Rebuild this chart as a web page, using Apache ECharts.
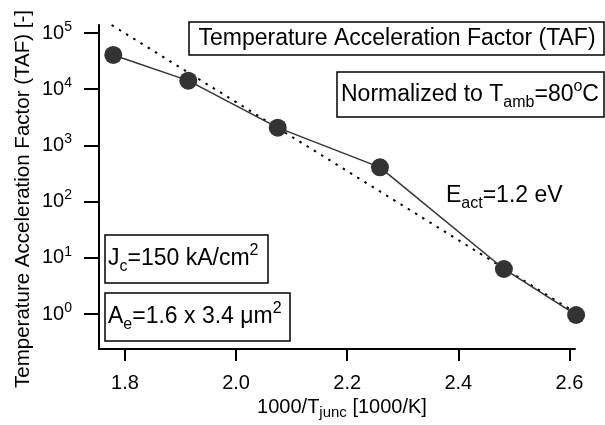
<!DOCTYPE html>
<html>
<head>
<meta charset="utf-8">
<script src="https://cdn.jsdelivr.net/npm/echarts@6/dist/echarts.min.js"></script>
<style>
html,body{margin:0;padding:0;background:#fff;}
#c{width:605px;height:425px;}
</style>
</head>
<body>
<div id="c"></div>
<script>
// Data
const invTemp = [1.779, 1.914, 2.075, 2.259, 2.482, 2.612];
const taf = [40600, 14200, 2070, 407, 6.32, 0.96];
const fitX = [1.776, 2.603];
const fitY = [138700, 1.18];
const xTicks = [1.8, 2.0, 2.2, 2.4, 2.6];
const yTicks = [1, 10, 100, 1000, 10000, 100000];

const FF = "'Liberation Sans', Arial, sans-serif";
const chart = echarts.init(document.getElementById('c'), null, {renderer: 'canvas'});

const annRich = {
  n: {fontSize: 23, fontFamily: FF, color: '#000', lineHeight: 32},
  sb: {fontSize: 16, fontFamily: FF, color: '#000', lineHeight: 11, verticalAlign: 'bottom'},
  sp: {fontSize: 16, fontFamily: FF, color: '#000', lineHeight: 13, verticalAlign: 'top'}
};

function box(x, y, w, h) {
  return {type: 'rect', shape: {x: x, y: y, width: w, height: h},
    style: {fill: '#fff', stroke: '#000', lineWidth: 1.5}, z: 10};
}
function txt(x, y, text, extra) {
  return Object.assign({type: 'text', x: x, y: y, z: 11,
    style: {text: text, rich: annRich, align: 'left', verticalAlign: 'middle', fill: '#000'}}, extra || {});
}

const option = {
  animation: false,
  backgroundColor: '#fff',
  grid: {left: 99, right: 30, top: 25, bottom: 76, containLabel: false},
  xAxis: {
    type: 'value', min: 1.7533, max: 2.61,
    axisLine: {show: true, onZero: false, lineStyle: {color: '#000', width: 2}},
    axisTick: {show: true, inside: false, length: 12, customValues: xTicks, lineStyle: {color: '#000', width: 2}},
    axisLabel: {customValues: xTicks, margin: 24, fontSize: 20, fontFamily: FF, color: '#000',
      formatter: v => v.toFixed(1)},
    splitLine: {show: false}
  },
  yAxis: {
    type: 'log', logBase: 10, min: 0.2383, max: 138700,
    axisLine: {show: true, onZero: false, lineStyle: {color: '#000', width: 2}},
    axisTick: {show: true, inside: false, length: 15, customValues: yTicks, lineStyle: {color: '#000', width: 2}},
    axisLabel: {customValues: yTicks, margin: 27, color: '#000',
      formatter: v => '{b|10}{s|' + Math.round(Math.log10(v)) + '}',
      rich: {
        b: {fontSize: 20, fontFamily: FF, color: '#000', lineHeight: 26},
        s: {fontSize: 14, fontFamily: FF, color: '#000', lineHeight: 10, verticalAlign: 'top'}
      }},
    splitLine: {show: false},
    minorTick: {show: false}
  },
  series: [
    {
      type: 'line',
      data: fitX.map((x, i) => [x, fitY[i]]),
      symbol: 'none',
      lineStyle: {color: '#000', width: 2, type: [2.5, 6]},
      z: 2
    },
    {
      type: 'line',
      data: invTemp.map((x, i) => [x, taf[i]]),
      symbol: 'circle', symbolSize: 18,
      itemStyle: {color: '#333'},
      lineStyle: {color: '#333', width: 1.5},
      clip: false,
      z: 3
    }
  ],
  graphic: [
    box(189, 22, 415, 33),
    {type: 'text', x: 397, y: 39, z: 11,
      style: {text: 'Temperature Acceleration Factor (TAF)', font: '23px ' + FF, fill: '#000', align: 'center', verticalAlign: 'middle'}},
    box(337, 72, 267, 45),
    txt(341, 95, '{n|Normalized to T}{sb|amb}{n|=80}{sp|o}{n|C}'),
    txt(446, 196, '{n|E}{sb|act}{n|=1.2 eV}'),
    box(105, 235, 163, 48),
    txt(108, 259, '{n|J}{sb|c}{n|=150 kA/cm}{sp|2}'),
    box(105, 293, 185, 48),
    txt(108, 317, '{n|A}{sb|e}{n|=1.6 x 3.4 μm}{sp|2}'),
    {type: 'text', x: 23, y: 199, rotation: Math.PI / 2, z: 11,
      style: {text: 'Temperature Acceleration Factor (TAF) [-]', font: '20.5px ' + FF, fill: '#000', align: 'center', verticalAlign: 'middle'}},
    {type: 'text', x: 342, y: 407, z: 11,
      style: {text: '{n|1000/T}{sb|junc}{n| [1000/K]}', align: 'center', verticalAlign: 'middle',
        rich: {
          n: {fontSize: 20, fontFamily: FF, color: '#000', lineHeight: 26},
          sb: {fontSize: 15, fontFamily: FF, color: '#000', lineHeight: 11, verticalAlign: 'bottom'}
        }}}
  ]
};
chart.setOption(option);
</script>
</body>
</html>
